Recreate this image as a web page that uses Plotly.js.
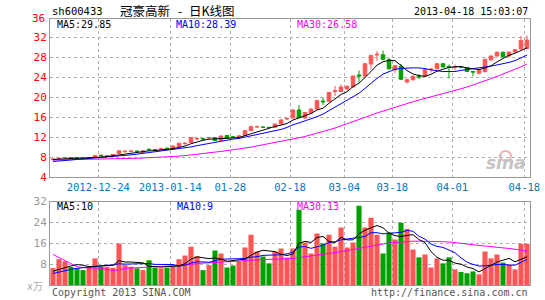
<!DOCTYPE html>
<html><head><meta charset="utf-8">
<script src="https://cdn.plot.ly/plotly-3.0.1.min.js"></script>
<style>html,body{margin:0;padding:0;background:#fff;}#chart{width:545px;height:300px;}</style>
</head><body><div id="chart"></div>
<script>
// ---- data ----
const openP  = [7.45,7.65,7.8,7.9,7.85,7.8,7.75,7.95,8.35,8.2, 8.3,8.7,9.05,9.1,9.2,8.9,9.55,9.5,9.55,9.75,
  9.65,10.05,10.65,10.9,11.6,11.7,11.8,11.85,11.3,12.3, 12.05,12.0,12.3,13.3,14.0,14.0,13.95,13.95,14.6,15.6,
  15.8,17.4,15.8,16.8,17.6,19.2,19.1,21.1,21.1,21.6, 22.0,24.4,24.2,26.6,28.4,28.45,27.45,25.45,26.15,23.0,
  23.45,24.15,24.15,25.45,25.65,26.65,26.1,25.9,26.0,25.9, 25.1,24.75,25.05,27.4,28.2,28.95,28.2,29.0,29.6,29.7];
const highP  = [7.7,7.9,8.0,8.0,7.95,7.9,8.0,8.4,8.5,8.4, 8.6,9.3,9.3,9.3,9.3,9.3,9.7,9.55,9.8,9.9,
  10.3,10.8,10.9,12.0,11.9,11.8,12.0,12.0,12.3,12.4, 12.2,12.25,13.3,14.3,14.3,14.2,14.0,14.7,15.6,15.9,
  17.5,18.4,17.0,17.7,19.4,19.9,21.0,22.2,22.5,22.4, 24.3,25.3,26.8,28.4,29.2,29.3,27.8,26.4,26.6,23.7,
  24.3,24.6,25.6,25.8,26.8,26.8,26.5,26.5,26.2,26.0, 25.2,25.5,27.6,28.3,29.1,29.1,29.1,29.6,32.2,32.3];
const lowP   = [7.3,7.6,7.7,7.7,7.7,7.6,7.7,7.9,8.1,8.1, 8.25,8.6,8.9,9.0,9.0,8.8,9.3,9.3,9.5,9.5,
  9.6,10.0,10.5,10.8,11.4,11.4,11.6,11.2,11.2,11.7, 11.8,11.95,12.2,13.2,13.8,13.8,13.85,13.9,14.5,15.4,
  15.7,15.7,15.6,16.7,17.5,18.4,19.0,20.2,21.0,21.4, 21.9,22.9,24.0,25.5,27.2,27.4,25.5,24.8,23.4,22.7,
  23.3,23.6,24.0,24.9,25.5,25.9,23.7,25.3,25.7,25.0, 24.1,24.5,25.0,27.3,28.1,27.9,28.0,28.9,29.5,29.5];
const closeP = [7.6,7.75,7.9,7.8,7.75,7.7,7.9,8.3,8.25,8.3, 8.5,9.25,9.15,9.2,9.1,9.25,9.45,9.4,9.65,9.65,
  10.2,10.75,10.75,11.9,11.7,11.6,11.9,11.3,12.2,11.75, 11.95,12.2,13.25,14.05,14.1,13.9,13.9,14.6,15.4,15.7,
  17.4,15.9,16.9,17.6,19.3,19.05,20.9,21.25,22.0,22.1, 24.2,24.2,26.65,28.3,28.55,27.55,25.65,26.25,23.55,23.45,
  24.15,24.0,25.5,25.55,26.65,26.0,25.95,26.05,25.9,25.1, 25.0,25.4,27.55,28.2,28.95,28.05,29.0,29.5,31.3,31.4];
const priceMA5  = [7.5,7.6,7.65,7.7,7.76,7.78,7.81,7.89,7.98,8.09, 8.25,8.52,8.69,8.88,9.04,9.19,9.23,9.28,9.37,9.48,
  9.67,9.93,10.2,10.65,11.06,11.34,11.57,11.68,11.74,11.75, 11.82,11.88,12.27,12.64,13.11,13.5,13.84,14.11,14.38,14.7,
  15.4,15.8,16.26,16.7,17.42,17.75,18.75,19.62,20.5,21.06, 22.09,22.75,23.83,25.09,26.38,27.05,27.34,27.26,26.31,25.29,
  24.61,24.28,24.13,24.53,25.17,25.54,25.93,26.04,26.11,25.8, 25.6,25.49,25.79,26.25,27.02,27.63,28.35,28.74,29.36,29.85];
const priceMA10 = [7.1,7.2,7.3,7.4,7.5,7.55,7.6,7.7,7.8,7.93, 8.02,8.17,8.29,8.43,8.57,8.72,8.88,8.99,9.13,9.26,
  9.43,9.58,9.74,10.01,10.27,10.51,10.75,10.94,11.2,11.41, 11.58,11.73,11.98,12.19,12.43,12.66,12.86,13.19,13.51,13.91,
  14.45,14.82,15.19,15.54,16.06,16.58,17.28,17.94,18.6,19.24, 19.92,20.75,21.73,22.8,23.72,24.57,25.05,25.55,25.7,25.84,
  25.83,25.81,25.7,25.42,25.23,25.08,25.11,25.09,25.32,25.49, 25.57,25.71,25.92,26.18,26.41,26.62,26.92,27.27,27.78,28.39];
const priceMA30 = [7.4,7.42,7.43,7.44,7.45,7.45,7.46,7.47,7.48,7.5, 7.58,7.62,7.65,7.68,7.75,7.8,7.84,7.88,7.92,7.97,
  8.08,8.17,8.28,8.45,8.6,8.74,8.86,8.98,9.12,9.25, 9.42,9.6,9.78,9.98,10.2,10.4,10.6,10.85,11.1,11.35,
  11.62,11.85,12.1,12.4,12.75,13.1,13.45,13.8,14.2,14.6, 15.0,15.45,15.9,16.35,16.8,17.2,17.6,18.0,18.35,18.7,
  19.05,19.4,19.7,20.0,20.3,20.6,20.95,21.3,21.65,22.0, 22.4,22.8,23.25,23.7,24.1,24.6,25.05,25.5,26.05,26.58];
const volume = [6.5,9.9,9.1,6.9,6.4,5.7,7.0,10.2,7.0,7.0, 6.6,15.9,7.6,7.0,6.4,5.7,9.5,6.6,6.4,6.6,
  7.0,9.9,11.3,14.7,11.0,5.7,7.6,13.2,12.1,6.7, 7.5,9.0,14.4,19.3,12.8,10.9,8.3,12.8,14.0,10.5,
  14.0,28.8,16.3,12.1,19.7,15.9,19.3,14.7,22.0,14.4, 16.3,30.4,22.0,25.8,19.3,12.1,20.1,17.4,23.9,21.6,
  13.6,10.6,11.7,6.7,10.2,8.3,10.6,6.0,5.0,4.5, 5.2,4.1,12.8,10.2,11.7,8.6,7.9,6.0,15.8,15.8];
const volMA5  = [5.3,6.0,6.8,7.3,7.8,7.6,7.0,7.2,7.3,7.4, 7.6,9.3,8.8,8.8,8.7,8.5,7.2,7.0,6.9,7.0,
  7.2,7.3,8.2,9.9,10.8,10.5,10.1,10.4,9.9,9.1, 9.4,9.7,9.9,11.4,12.6,13.3,13.1,12.8,11.8,11.3,
  11.9,16.0,16.7,16.3,18.2,18.6,16.7,16.3,18.3,17.3, 17.3,19.6,21.0,21.8,22.8,21.9,19.9,18.9,18.6,19.0,
  19.3,17.4,16.3,12.8,10.6,9.5,9.5,8.4,8.0,6.9, 6.3,5.0,6.3,7.4,8.8,9.5,10.2,8.9,10.0,10.8];
const volMA10 = [4.4,5.0,5.6,6.0,6.4,6.7,6.9,7.1,7.3,7.6, 7.6,8.15,8.0,8.05,8.05,8.05,8.25,7.9,7.85,7.85,
  7.85,7.25,7.6,8.4,8.9,8.85,8.7,9.3,9.9,9.95, 9.95,9.9,10.15,10.65,10.85,11.35,11.4,11.35,11.6,11.95,
  12.6,14.55,14.75,14.05,14.75,15.25,16.35,16.5,17.3,17.75, 17.95,18.15,18.65,20.05,20.05,19.6,19.75,19.95,20.2,20.9,
  20.6,18.65,17.6,15.7,14.8,14.4,13.45,12.35,10.4,8.75, 7.9,7.25,7.35,7.7,7.85,7.9,7.6,7.6,8.7,9.8];
const volMA30 = [11.7,10.5,9.3,8.0,7.0,6.7,6.6,6.5,6.4,6.0, 5.6,5.7,6.4,6.5,6.6,6.7,6.8,6.9,7.0,7.1,
  7.3,7.5,7.7,8.0,8.2,8.4,8.5,8.6,8.8,8.9, 9.0,9.1,9.3,9.5,9.6,9.7,9.7,9.8,9.9,10.0,
  10.2,10.5,10.8,11.0,11.3,11.6,12.0,12.4,12.8,13.2, 13.6,14.2,14.6,15.0,15.4,15.8,16.1,16.3,16.5,16.7,
  16.8,16.8,16.8,16.7,16.6,16.6,16.5,16.3,16.0,15.7, 15.4,15.2,15.0,14.8,14.5,14.2,14.0,13.7,13.3,13.0];
const tickPos  = [7.55,19.55,29.55,39.5,48.55,56.55,66.55,78.55];
const tickText = ['2012-12-24','2013-01-14','01-28','02-18','03-04','03-18','04-01','04-18'];
const priceTicks = [4,8,12,16,20,24,28,32];
const volTicks = [8,16,24,32];

// ---- drawing ----
const idx = closeP.map((_, i) => i);
const RED = '#ff5555', GREEN = '#00a000';
const volColors = closeP.map((c, i) => c >= openP[i] ? RED : GREEN);
const mono = '"DejaVu Sans Mono", monospace';

const traces = [
  {type:'candlestick', x:idx, open:openP, high:highP, low:lowP, close:closeP, xaxis:'x', yaxis:'y',
   increasing:{line:{color:RED,width:1}, fillcolor:RED},
   decreasing:{line:{color:GREEN,width:1}, fillcolor:GREEN}, whiskerwidth:0, hoverinfo:'skip'},
  {type:'scatter', mode:'lines', x:idx, y:priceMA30, line:{color:'#ff00ff',width:1}, xaxis:'x', yaxis:'y', hoverinfo:'skip'},
  {type:'scatter', mode:'lines', x:idx, y:priceMA10, line:{color:'#0000ff',width:1}, xaxis:'x', yaxis:'y', hoverinfo:'skip'},
  {type:'scatter', mode:'lines', x:idx, y:priceMA5,  line:{color:'#000000',width:1}, xaxis:'x', yaxis:'y', hoverinfo:'skip'},
  {type:'bar', x:idx, y:volume, marker:{color:volColors, line:{width:0}}, xaxis:'x2', yaxis:'y2', hoverinfo:'skip'},
  {type:'scatter', mode:'lines', x:idx, y:volMA30, line:{color:'#ff00ff',width:1}, xaxis:'x2', yaxis:'y2', hoverinfo:'skip'},
  {type:'scatter', mode:'lines', x:idx, y:volMA10, line:{color:'#0000ff',width:1}, xaxis:'x2', yaxis:'y2', hoverinfo:'skip'},
  {type:'scatter', mode:'lines', x:idx, y:volMA5,  line:{color:'#000000',width:1}, xaxis:'x2', yaxis:'y2', hoverinfo:'skip'}
];

// pixel -> paper helpers (plot area x:50..530, y:19..285)
const PX = p => (p - 50) / 480;
const PY = p => (285 - p) / 266;
function ann(text, px, py, color, size, xanchor, family, extra) {
  return Object.assign({text:text, xref:'paper', yref:'paper', x:PX(px), y:PY(py), xanchor:xanchor||'left', yanchor:'middle',
    showarrow:false, font:{family:family||mono, size:size||10, color:color||'#000'}}, extra||{});
}
const last = a => a[a.length-1];
const cjk = '"Noto Sans CJK SC", sans-serif';
const annotations = [
  ann('sh600433', 50, 11, '#000', 10.5),
  ann('冠豪高新', 145, 10.5, '#000', 12.5, 'center', cjk),
  ann('-', 179.5, 10.5, '#000', 12.5, 'center', cjk),
  ann('日K线图', 212, 10.5, '#000', 12.5, 'center', cjk),
  ann('2013-04-18 15:03:07', 530, 11.5, '#000', 10, 'right'),
  ann('MA5:' + last(priceMA5).toFixed(2), 55, 24, '#000', 10),
  ann('MA10:' + last(priceMA10).toFixed(2), 174, 24, '#0000ff', 10),
  ann('MA30:' + last(priceMA30).toFixed(2), 295, 24, '#ff00ff', 10),
  ann('MA5:' + Math.floor(last(volMA5) + 1e-9), 55, 206.5, '#000', 10),
  ann('MA10:' + Math.floor(last(volMA10) + 1e-9), 175, 206.5, '#0000ff', 10),
  ann('MA30:' + Math.floor(last(volMA30) + 1e-9), 295, 206.5, '#ff00ff', 10),
  ann('36', 47, 18.5, '#ff0000', 11, 'right'),
  ann('x万', 45, 286, '#aaaaaa', 10, 'right', '"DejaVu Sans", "Noto Sans CJK SC", sans-serif'),
  ann('Copyright 2013 SINA.COM', 50, 292.5, '#555555', 10),
  ann('http://finance.sina.com.cn', 530, 292.5, '#555555', 10, 'right'),
  ann('sina', 528, 163, '#c4c4c4', 17, 'right', '"DejaVu Sans", sans-serif', {font:{family:'"DejaVu Sans", sans-serif', size:17, color:'#c4c4c4', style:'italic', weight:'bold'}})
];

const gridCommon = {showgrid:true, gridcolor:'#b0b0b0', griddash:'dot', gridwidth:1, showline:true, mirror:true,
  linecolor:'#999999', linewidth:1, zeroline:false, ticks:'', fixedrange:true};

const layout = {
  width:545, height:300, margin:{l:50, r:15, t:19, b:15},
  paper_bgcolor:'#ffffff', plot_bgcolor:'#ffffff', showlegend:false,
  bargap:0.15, boxgap:0.15, dragmode:false, hovermode:false,
  xaxis:Object.assign({}, gridCommon, {domain:[0,1], anchor:'y', range:[-0.5,79.5], type:'linear',
    tickmode:'array', tickvals:tickPos, ticktext:tickText, rangeslider:{visible:false},
    tickfont:{family:mono, size:10.5, color:'#0078c8'}}),
  yaxis:Object.assign({}, gridCommon, {domain:[PY(177),1], anchor:'x', range:[4,35.6],
    tickmode:'array', tickvals:priceTicks, tickfont:{family:mono, size:11, color:'#ff0000'}}),
  xaxis2:Object.assign({}, gridCommon, {domain:[0,1], anchor:'y2', range:[-0.5,79.5], type:'linear',
    tickmode:'array', tickvals:tickPos, showticklabels:false, rangeslider:{visible:false}}),
  yaxis2:Object.assign({}, gridCommon, {domain:[0,PY(201.5)], anchor:'x2', range:[0,32],
    tickmode:'array', tickvals:volTicks, tickfont:{family:mono, size:11, color:'#999999'}}),
  annotations:annotations,
  shapes:[
    {type:'circle', xref:'paper', yref:'paper', x0:PX(500), x1:PX(511), y0:PY(161), y1:PY(151),
     line:{color:'#f3b0b0', width:2}, fillcolor:'rgba(0,0,0,0)'}
  ]
};

Plotly.newPlot('chart', traces, layout, {staticPlot:true, displayModeBar:false});
</script>
</body></html>
